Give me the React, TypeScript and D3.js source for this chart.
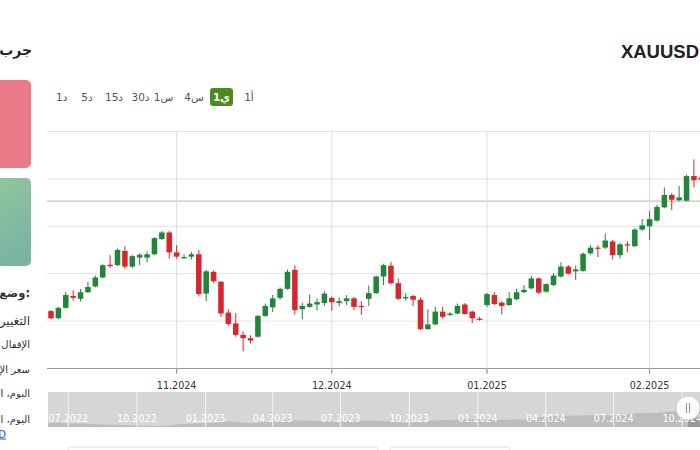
import React from "react";
import * as d3 from "d3";

// ---------- data ----------
const dates = [
  "2024-10-09","2024-10-10","2024-10-11","2024-10-14","2024-10-15","2024-10-16","2024-10-17","2024-10-18","2024-10-21","2024-10-22","2024-10-23","2024-10-24","2024-10-25","2024-10-28","2024-10-29","2024-10-30","2024-10-31",
  "2024-11-01","2024-11-04","2024-11-05","2024-11-06","2024-11-07","2024-11-08","2024-11-11","2024-11-12","2024-11-13","2024-11-14","2024-11-15","2024-11-18","2024-11-19","2024-11-20","2024-11-21","2024-11-22","2024-11-25","2024-11-26","2024-11-27","2024-11-28","2024-11-29",
  "2024-12-02","2024-12-03","2024-12-04","2024-12-05","2024-12-06","2024-12-09","2024-12-10","2024-12-11","2024-12-12","2024-12-13","2024-12-16","2024-12-17","2024-12-18","2024-12-19","2024-12-20","2024-12-23","2024-12-24","2024-12-26","2024-12-27","2024-12-30","2024-12-31",
  "2025-01-02","2025-01-03","2025-01-06","2025-01-07","2025-01-08","2025-01-09","2025-01-10","2025-01-13","2025-01-14","2025-01-15","2025-01-16","2025-01-17","2025-01-20","2025-01-21","2025-01-22","2025-01-23","2025-01-24","2025-01-27","2025-01-28","2025-01-29","2025-01-30","2025-01-31",
  "2025-02-03","2025-02-04","2025-02-05","2025-02-06","2025-02-07","2025-02-10","2025-02-11","2025-02-12",
];
const openPrices = [
  2621,2606,2628,2653,2647,2661,2673,2692,2719,2718,2748,2715,2734,2734,2741,2773,2787,
  2745,2733,2736,2741,2658,2704,2683,2618,2595,2571,2564,2567,2611,2629,2649,2668,2708,2625,2630,2635,2638,
  2649,2638,2642,2648,2632,2647,2659,2694,2717,2680,2648,2653,2645,2583,2593,2620,2613,2616,2635,2620,2605,
  2634,2655,2639,2634,2646,2661,2669,2690,2662,2676,2694,2715,2705,2706,2743,2755,2755,2768,2739,2762,2758,2793,
  2800,2812,2840,2866,2855,2854,2906,2903,
];
const highPrices = [
  2623,2630,2661,2665,2668,2683,2696,2720,2739,2753,2758,2740,2743,2747,2777,2790,2790,
  2760,2741,2746,2750,2708,2707,2685,2625,2617,2578,2570,2613,2637,2655,2671,2709,2718,2639,2656,2648,2663,
  2652,2650,2655,2651,2642,2675,2696,2721,2725,2690,2659,2655,2650,2625,2630,2630,2619,2637,2638,2622,2609,
  2659,2661,2642,2661,2668,2676,2695,2692,2680,2701,2724,2718,2717,2745,2760,2760,2785,2771,2765,2768,2796,2815,
  2832,2845,2882,2870,2885,2909,2941,2906,
];
const lowPrices = [
  2604,2604,2626,2643,2641,2659,2671,2690,2712,2716,2710,2712,2718,2724,2739,2771,2732,
  2732,2731,2730,2652,2642,2680,2609,2590,2567,2536,2553,2565,2609,2619,2645,2666,2614,2604,2628,2622,2632,
  2622,2631,2634,2623,2613,2632,2657,2676,2677,2645,2643,2632,2581,2582,2591,2605,2610,2614,2613,2596,2601,
  2630,2634,2614,2632,2644,2659,2667,2657,2660,2674,2692,2698,2687,2704,2740,2735,2752,2730,2732,2745,2756,2791,
  2771,2810,2838,2834,2853,2852,2882,2880,
];
const closePrices = [
  2606,2628,2655,2649,2661,2672,2692,2718,2716,2750,2715,2737,2740,2741,2775,2787,2745,
  2736,2735,2741,2657,2705,2684,2616,2594,2571,2564,2559,2611,2632,2648,2668,2704,2623,2632,2637,2640,2658,
  2640,2642,2648,2630,2630,2659,2694,2718,2680,2647,2651,2645,2583,2593,2620,2609,2616,2632,2615,2606,2603,
  2657,2636,2632,2648,2661,2666,2690,2660,2678,2696,2715,2700,2709,2742,2755,2753,2770,2739,2762,2760,2793,2802,
  2815,2841,2866,2856,2861,2906,2897,2898,
];

const priceTicks = [2500, 2600, 2700, 2800, 2900, 3000];
const markerPrice = 2853;
const monthTickDates = ["2024-11-01", "2024-12-02", "2025-01-02", "2025-02-03"];
const monthTickLabels = ["11.2024", "12.2024", "01.2025", "02.2025"];

const navDates = [
  "2022-06-01","2022-07-01","2022-08-01","2022-09-01","2022-10-01","2022-11-01","2022-12-01",
  "2023-01-01","2023-02-01","2023-03-01","2023-04-01","2023-05-01","2023-06-01","2023-07-01","2023-08-01","2023-09-01","2023-10-01","2023-11-01","2023-12-01",
  "2024-01-01","2024-02-01","2024-03-01","2024-04-01","2024-05-01","2024-06-01","2024-07-01","2024-08-01","2024-09-01","2024-10-01","2024-11-01","2024-12-01",
  "2025-01-01","2025-02-01",
];
const navValues = [
  1840,1810,1765,1711,1660,1633,1768,
  1824,1928,1827,1969,1990,1962,1919,1965,1940,1849,1983,2036,
  2063,2039,2044,2230,2286,2327,2326,2447,2503,2634,2744,2650,
  2625,2800,
];
const navTickDates = ["2022-07-01","2022-10-01","2023-01-01","2023-04-01","2023-07-01","2023-10-01","2024-01-01","2024-04-01","2024-07-01","2024-10-01"];
const navTickLabels = ["07.2022","10.2022","01.2023","04.2023","07.2023","10.2023","01.2024","04.2024","07.2024","10.2024"];

const timeframes = ["1أ", "1ي", "4س", "1س", "30د", "15د", "5د", "1د"];
const selectedTimeframe = "1ي";
const symbol = "XAUUSD";
const sideTitle = "جرب";
const sideLabels = ["وضع:", "التغيير", "الإقفال السابق", "سعر الإفتتاح", "اليوم، الأعلى", "اليوم، الأدنى"];

// ---------- layout ----------
const W = 700, H = 450;
const plotL = 47, plotR = 700, plotT = 131.5, plotB = 368.5;
const GREEN = "#22863a";
const RED = "#d7262e";
const ARFONT = "'DejaVu Sans', sans-serif";

export default function App() {
  const step = 7.39;
  const x = d3.scaleBand<string>()
    .domain(dates)
    .range([51 - 0.625 * step, 51 - 0.625 * step + step * (dates.length + 0.25)])
    .paddingInner(0.25)
    .paddingOuter(0.25);
  const bw = x.bandwidth();
  const cx = (d: string) => (x(d) as number) + bw / 2;
  const y = d3.scaleLinear().domain([2500, 3000]).range([plotB, plotT]);

  // navigator
  const navT = 392, navB = 427, navL = 48, navR = 700;
  const parse = d3.timeParse("%Y-%m-%d");
  const xn = d3.scaleTime()
    .domain([parse("2022-07-01") as Date, parse("2024-10-01") as Date])
    .range([68.3, 682.3]);
  const yn = d3.scaleLinear().domain([1570, 3810]).range([navB, navT]);
  const navArea = d3.area<number>()
    .x((_, i) => xn(parse(navDates[i]) as Date))
    .y0(navB)
    .y1((v) => yn(v))
    .curve(d3.curveMonotoneX);
  const navPath = navArea(navValues) || "";
  const handleX = 688;

  const tfX = [249, 221.5, 194, 163.5, 140.5, 114, 87, 61.7];
  const sideY = [293, 321, 344, 369, 393, 419];
  const sideSize = [11.5, 12, 10, 10, 10, 10];

  return (
    <svg width={W} height={H} style={{ position: "absolute", left: 0, top: 0, background: "#fff" }}>
      <defs>
        <clipPath id="plotClip"><rect x={plotL} y={plotT - 5} width={plotR - plotL} height={plotB - plotT + 10} /></clipPath>
        <clipPath id="navClip"><rect x={navL} y={navT} width={navR - navL} height={navB - navT} /></clipPath>
        <clipPath id="selClip"><rect x={handleX} y={navT} width={navR - handleX} height={navB - navT} /></clipPath>
        <linearGradient id="greenBox" x1="0" y1="0" x2="0.3" y2="1">
          <stop offset="0" stopColor="#92c79c" />
          <stop offset="1" stopColor="#79b4a4" />
        </linearGradient>
      </defs>

      {/* left sidebar */}
      <text x={32} y={55} textAnchor="end" fontFamily={ARFONT} fontSize={14} fontWeight="bold" fill="#222">{sideTitle}</text>
      <rect x={-10} y={80} width={41} height={88} rx={5} fill="#e87b87" />
      <rect x={-10} y={178} width={41} height={88} rx={5} fill="url(#greenBox)" />
      {sideLabels.map((s, i) => (
        <text key={s} x={30} y={sideY[i]} dy="0.35em" textAnchor="end" fontFamily={ARFONT}
          fontSize={sideSize[i]} fontWeight={i === 0 ? "bold" : "normal"} fill="#333">{s}</text>
      ))}
      <text x={6} y={434} dy="0.35em" textAnchor="end" fontFamily={ARFONT} fontSize={10} fill="#1a5fb4" textDecoration="underline">{symbol}</text>

      {/* title */}
      <text x={699} y={58} textAnchor="end" fontFamily="'Liberation Sans', Arial, sans-serif" fontSize={18.5} fontWeight="bold" fill="#222">{symbol}</text>

      {/* timeframe buttons */}
      {timeframes.map((t, i) => {
        const sel = t === selectedTimeframe;
        return (
          <g key={t}>
            {sel && <rect x={tfX[i] - 11.5} y={88} width={23} height={18} rx={3} fill="#4c8a1e" />}
            <text x={tfX[i]} y={97} dy="0.35em" textAnchor="middle" fontFamily={ARFONT} fontSize={10.5}
              direction="ltr" unicodeBidi="bidi-override" style={{ unicodeBidi: "bidi-override", direction: "ltr" }}
              fontWeight={sel ? "bold" : "normal"} fill={sel ? "#fff" : "#555"}>{t}</text>
          </g>
        );
      })}

      {/* grid */}
      {priceTicks.map((p) => (
        <line key={p} x1={plotL} x2={plotR} y1={y(p)} y2={y(p)} stroke={p === 2500 ? "#9a9a9a" : "#e2e2e2"} strokeWidth={1} />
      ))}
      <line x1={plotL} x2={plotR} y1={y(markerPrice)} y2={y(markerPrice)} stroke="#c4c4c4" strokeWidth={1.3} />
      {monthTickDates.map((d, i) => (
        <g key={d}>
          <line x1={cx(d)} x2={cx(d)} y1={plotT} y2={plotB + 5} stroke="#dcdcdc" strokeWidth={1} />
          <line x1={cx(d)} x2={cx(d)} y1={plotB} y2={plotB + 5} stroke="#888" strokeWidth={1} />
          <text x={cx(d)} y={386} dy="0.35em" textAnchor="middle" fontFamily="'DejaVu Sans', sans-serif" fontSize={9.6} fill="#333">{monthTickLabels[i]}</text>
        </g>
      ))}

      {/* candles */}
      <g clipPath="url(#plotClip)">
        {dates.map((d, i) => {
          const o = openPrices[i], c = closePrices[i], hi = highPrices[i], lo = lowPrices[i];
          const col = c >= o ? GREEN : RED;
          const top = y(Math.max(o, c));
          const bh = Math.max(1.2, y(Math.min(o, c)) - top);
          return (
            <g key={d}>
              <line x1={cx(d)} x2={cx(d)} y1={y(hi)} y2={y(lo)} stroke={col} strokeWidth={1} />
              <rect x={x(d)} y={top} width={bw} height={bh} fill={col} />
            </g>
          );
        })}
      </g>

      {/* navigator */}
      <rect x={navL} y={navT} width={navR - navL} height={navB - navT} fill="#d6d6d6" />
      <g clipPath="url(#navClip)">
        <path d={navPath} fill="#bdbdbd" />
        <path d={navPath} fill="#9a9a9a" clipPath="url(#selClip)" />
        {navTickDates.map((d, i) => {
          const xx = xn(parse(d) as Date);
          return (
            <g key={d}>
              <line x1={xx} x2={xx} y1={navT} y2={navB} stroke="#f4f4f4" strokeWidth={1} />
              <text x={xx} y={419} dy="0.35em" textAnchor="middle" fontFamily="'DejaVu Sans', sans-serif" fontSize={9.6} fill="#fff">{navTickLabels[i]}</text>
            </g>
          );
        })}
      </g>
      <circle cx={handleX} cy={408} r={12} fill="#fff" stroke="#d0d0d0" strokeWidth={1} />
      <line x1={handleX - 1.5} x2={handleX - 1.5} y1={403} y2={413} stroke="#999" strokeWidth={1} />
      <line x1={handleX + 1.5} x2={handleX + 1.5} y1={403} y2={413} stroke="#999" strokeWidth={1} />

      {/* bottom boxes */}
      <rect x={68} y={447} width={310} height={20} rx={3} fill="#fff" stroke="#dedede" />
      <rect x={390} y={447} width={120} height={20} rx={3} fill="#fff" stroke="#dedede" />
    </svg>
  );
}
